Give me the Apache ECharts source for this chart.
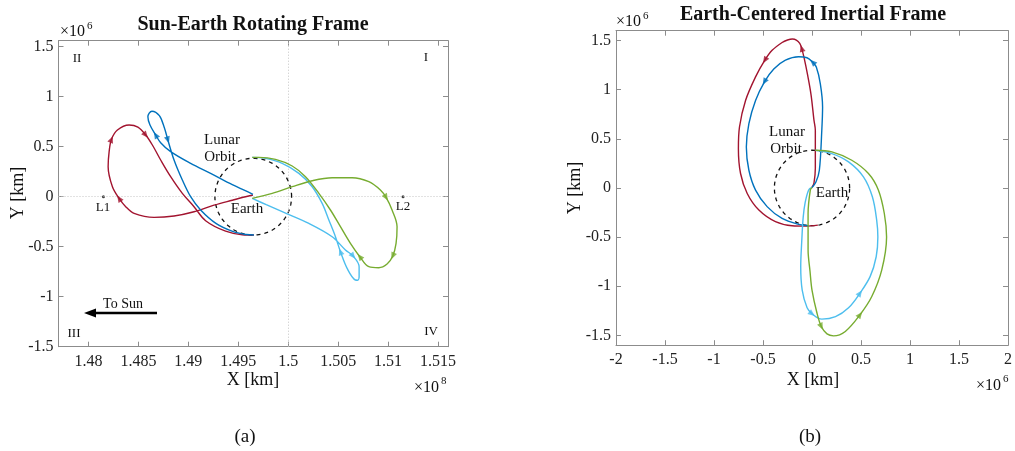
<!DOCTYPE html>
<html>
<head>
<meta charset="utf-8">
<script src="https://cdn.jsdelivr.net/npm/echarts@6/dist/echarts.min.js"></script>
<style>
html,body{margin:0;padding:0;background:#fff;}
#main{width:1015px;height:451px;}
</style>
</head>
<body>
<div id="main"></div>
<script>
// left panel: x in 1e8 km, y in 1e6 km ; right panel: both in 1e6 km
var rotXTicks = [1.48, 1.485, 1.49, 1.495, 1.5, 1.505, 1.51, 1.515];
var rotYTicks = [-1.5, -1, -0.5, 0, 0.5, 1, 1.5];
var eciXTicks = [-2, -1.5, -1, -0.5, 0, 0.5, 1, 1.5, 2];
var eciYTicks = [-1.5, -1, -0.5, 0, 0.5, 1, 1.5];

var earthX = 1.4965;
var lunarR = 0.384;
var lagrangePts = [[1.4815, 0], [1.5115, 0]];

// Sun-Earth rotating frame
var redRot = [[1.49647,0.017],[1.49573,0.0],[1.4944,-0.035],[1.49257,-0.085],[1.49057,-0.15],[1.48857,-0.193],[1.48657,-0.207],[1.48457,-0.167],[1.48373,-0.10],[1.48307,-0.017],[1.4824,0.10],[1.48197,0.30],[1.48207,0.45],[1.4823,0.573],[1.4829,0.667],[1.48407,0.717],[1.48495,0.695],[1.48573,0.617],[1.4864,0.517],[1.48723,0.367],[1.48823,0.20],[1.4894,0.033],[1.49057,-0.10],[1.49173,-0.24],[1.49373,-0.345],[1.4954,-0.38],[1.49657,-0.383]];
var redRotArrows = [9, 13, 17];
var blueRot = [[1.49647,0.023],[1.4957,0.06],[1.4944,0.12],[1.49223,0.233],[1.49023,0.333],[1.48823,0.45],[1.48723,0.54],[1.48673,0.617],[1.48615,0.72],[1.48595,0.80],[1.48635,0.855],[1.4871,0.81],[1.4876,0.69],[1.48795,0.567],[1.48857,0.367],[1.4894,0.167],[1.49023,0.0],[1.49123,-0.133],[1.4928,-0.27],[1.4945,-0.35],[1.4958,-0.378],[1.49657,-0.383]];
var blueRotArrows = [7, 13];
var cyanRot = [[1.4964,-0.017],[1.4978,-0.08],[1.4994,-0.15],[1.50207,-0.267],[1.5044,-0.40],[1.50573,-0.533],[1.5065,-0.593],[1.5071,-0.70],[1.5071,-0.80],[1.50695,-0.835],[1.50673,-0.833],[1.5059,-0.717],[1.50523,-0.55],[1.50473,-0.40],[1.50407,-0.233],[1.5034,-0.067],[1.5024,0.10],[1.50107,0.233],[1.4994,0.333],[1.49773,0.383],[1.4964,0.393]];
var cyanRotArrows = [6, 12];
var greenRot = [[1.4964,-0.017],[1.4984,0.033],[1.5004,0.10],[1.5024,0.16],[1.5044,0.19],[1.5064,0.19],[1.50807,0.15],[1.50923,0.067],[1.5098,-0.007],[1.5104,-0.133],[1.5109,-0.30],[1.5108,-0.467],[1.51047,-0.593],[1.5099,-0.673],[1.50907,-0.71],[1.50807,-0.70],[1.50717,-0.60],[1.50623,-0.467],[1.50523,-0.30],[1.50423,-0.133],[1.50307,0.033],[1.50173,0.20],[1.5004,0.307],[1.49873,0.373],[1.49707,0.393],[1.4964,0.393]];
var greenRotArrows = [8, 12, 16];

// Earth-centered inertial frame
var redEci = [[0,0.005],[0.02,0.05],[0.034,0.2],[0.034,0.587],[0.02,0.69],[-0.01,0.95],[-0.045,1.15],[-0.08,1.32],[-0.105,1.42],[-0.125,1.47],[-0.16,1.505],[-0.2,1.515],[-0.25,1.505],[-0.305,1.48],[-0.407,1.40],[-0.481,1.30],[-0.576,1.13],[-0.678,0.89],[-0.74,0.62],[-0.751,0.4],[-0.729,0.147],[-0.661,-0.056],[-0.542,-0.225],[-0.373,-0.343],[-0.203,-0.385],[-0.068,-0.388],[0.06,-0.378]];
var redEciArrows = [8, 15];
var blueEci = [[0,0.005],[0.04,0.06],[0.075,0.18],[0.1,0.587],[0.108,0.824],[0.085,1.06],[0.044,1.23],[0.007,1.28],[-0.051,1.325],[-0.136,1.335],[-0.271,1.30],[-0.39,1.21],[-0.485,1.08],[-0.576,0.89],[-0.644,0.655],[-0.67,0.417],[-0.644,0.18],[-0.576,-0.022],[-0.458,-0.19],[-0.305,-0.31],[-0.136,-0.37],[-0.034,-0.385]];
var blueEciArrows = [7, 12];
var cyanEci = [[0,0.005],[-0.034,-0.02],[-0.07,-0.15],[-0.09,-0.30],[-0.105,-0.55],[-0.115,-0.80],[-0.10,-1.04],[-0.05,-1.22],[0,-1.28],[0.10,-1.335],[0.24,-1.31],[0.373,-1.22],[0.49,-1.07],[0.594,-0.90],[0.655,-0.70],[0.672,-0.50],[0.66,-0.327],[0.616,-0.09],[0.525,0.113],[0.373,0.265],[0.203,0.35],[0.034,0.384]];
var cyanEciArrows = [8, 12];
var greenEci = [[0,0.005],[-0.017,-0.02],[-0.04,-0.26],[-0.04,-0.63],[-0.02,-0.85],[0,-1.04],[0.05,-1.27],[0.095,-1.41],[0.153,-1.485],[0.22,-1.505],[0.34,-1.46],[0.49,-1.29],[0.61,-1.105],[0.712,-0.834],[0.761,-0.50],[0.738,-0.26],[0.677,-0.02],[0.576,0.147],[0.406,0.282],[0.203,0.367],[0.034,0.384]];
var greenEciArrows = [7, 11];

var RED = '#A2142F', BLUE = '#0072BD', CYAN = '#4DBEEE', GREEN = '#77AC30';
var FONT = '"Liberation Serif", "Times New Roman", serif';
var FRAME = '#8c8c8c';

function circle(cx, cy, rx, ry) {
  var pts = [];
  for (var i = 0; i <= 120; i++) {
    var a = i / 120 * Math.PI * 2;
    pts.push([cx + rx * Math.cos(a), cy + ry * Math.sin(a)]);
  }
  return pts;
}

function fmt(v) { return String(+v.toFixed(4)); }

function axis(grid, pos, min, max, ticks, labels) {
  return {
    type: 'value', gridIndex: grid, position: pos, min: min, max: max,
    axisLine: { show: true, onZero: false, lineStyle: { color: FRAME, width: 1 } },
    axisTick: { show: true, inside: true, length: 5, customValues: ticks, lineStyle: { color: FRAME } },
    axisLabel: { show: labels, customValues: ticks, formatter: fmt, color: '#222', fontFamily: FONT, fontSize: 16, margin: pos === 'bottom' ? 7 : 5 },
    splitLine: { show: false }
  };
}

var chart = echarts.init(document.getElementById('main'), null, { renderer: 'canvas' });

var curves = [
  { d: redRot, a: redRotArrows, c: RED, g: 0 },
  { d: blueRot, a: blueRotArrows, c: BLUE, g: 0 },
  { d: cyanRot, a: cyanRotArrows, c: CYAN, g: 0 },
  { d: greenRot, a: greenRotArrows, c: GREEN, g: 0 },
  { d: redEci, a: redEciArrows, c: RED, g: 1 },
  { d: blueEci, a: blueEciArrows, c: BLUE, g: 1 },
  { d: cyanEci, a: cyanEciArrows, c: CYAN, g: 1 },
  { d: greenEci, a: greenEciArrows, c: GREEN, g: 1 }
];

var series = [];
// lunar orbits + reference lines
series.push({
  type: 'line', xAxisIndex: 0, yAxisIndex: 0, data: circle(earthX, 0, lunarR / 100, lunarR),
  showSymbol: false, lineStyle: { color: '#111', width: 1.3, type: [4, 4] }, z: 3,
  markLine: {
    silent: true, symbol: 'none', label: { show: false },
    lineStyle: { color: '#c4c4c4', type: [1, 2], width: 1 },
    data: [{ xAxis: earthX }, { yAxis: 0 }]
  }
});
series.push({
  type: 'line', xAxisIndex: 2, yAxisIndex: 2, data: circle(0, 0, lunarR, lunarR),
  showSymbol: false, lineStyle: { color: '#111', width: 1.3, type: [4, 4] }, z: 3
});
series.push({
  type: 'scatter', xAxisIndex: 0, yAxisIndex: 0, data: lagrangePts,
  symbol: 'circle', symbolSize: 3, itemStyle: { color: '#111' }, z: 4
});
curves.forEach(function (cv) {
  series.push({
    type: 'line', xAxisIndex: cv.g * 2, yAxisIndex: cv.g * 2, data: cv.d,
    showSymbol: false, smooth: 0.35, lineStyle: { color: cv.c, width: 1.4 }, z: 5
  });
});

var graphics = [];
function txt(t, x, y, size, opts) {
  opts = opts || {};
  graphics.push({
    type: 'text', x: x, y: y, rotation: opts.rot || 0, z: 10,
    style: { text: t, fill: '#111', font: (opts.bold ? 'bold ' : '') + size + 'px ' + FONT, textAlign: opts.align || 'center', textVerticalAlign: 'middle' }
  });
}
txt('Sun-Earth Rotating Frame', 253, 25, 20, { bold: true });
txt('Earth-Centered Inertial Frame', 813, 15, 20, { bold: true });
txt('X [km]', 253, 380, 18);
txt('X [km]', 813, 380, 18);
txt('Y [km]', 18, 193, 18, { rot: Math.PI / 2 });
txt('Y [km]', 575, 188, 18, { rot: Math.PI / 2 });
txt('×10', 60, 32, 16, { align: 'left' });
txt('6', 87, 26, 11, { align: 'left' });
txt('×10', 616, 22, 16, { align: 'left' });
txt('6', 643, 16, 11, { align: 'left' });
txt('×10', 414, 388, 16, { align: 'left' });
txt('8', 441, 381, 11, { align: 'left' });
txt('×10', 976, 386, 16, { align: 'left' });
txt('6', 1003, 379, 11, { align: 'left' });
txt('(a)', 245, 437, 19);
txt('(b)', 810, 437, 19);
txt('II', 77, 59, 13);
txt('I', 426, 58, 13);
txt('III', 74, 334, 13);
txt('IV', 431, 332, 13);
txt('L1', 103, 208, 13);
txt('L2', 403, 207, 13);
txt('Lunar', 222, 140, 15);
txt('Orbit', 220, 157, 15);
txt('Earth', 247, 209, 15);
txt('Lunar', 787, 132, 15);
txt('Orbit', 786, 149, 15);
txt('Earth', 832, 193, 15);
txt('To Sun', 123, 304, 14);
graphics.push({ type: 'line', z: 10, shape: { x1: 157, y1: 313, x2: 92, y2: 313 }, style: { stroke: '#000', lineWidth: 2.5 } });
graphics.push({ type: 'polygon', z: 10, shape: { points: [[84, 313], [96, 308.5], [96, 317.5]] }, style: { fill: '#000' } });

chart.setOption({
  animation: false,
  backgroundColor: '#fff',
  grid: [
    { left: 58.5, top: 40.7, width: 389.5, height: 306 },
    { left: 616, top: 30.7, width: 394.5, height: 314.5 }
  ],
  xAxis: [
    axis(0, 'bottom', 1.477, 1.516, rotXTicks, true),
    axis(0, 'top', 1.477, 1.516, rotXTicks, false),
    axis(1, 'bottom', -2, 2, eciXTicks, true),
    axis(1, 'top', -2, 2, eciXTicks, false)
  ],
  yAxis: [
    axis(0, 'left', -1.5, 1.56, rotYTicks, true),
    axis(0, 'right', -1.5, 1.56, rotYTicks, false),
    axis(1, 'left', -1.6, 1.6, eciYTicks, true),
    axis(1, 'right', -1.6, 1.6, eciYTicks, false)
  ],
  series: series,
  graphic: graphics
});

// direction arrows along each trajectory, oriented in pixel space
var arrowSeries = [];
curves.forEach(function (cv) {
  var ax = cv.g * 2;
  var pts = cv.a.map(function (i) {
    var p0 = chart.convertToPixel({ xAxisIndex: ax, yAxisIndex: ax }, cv.d[i - 1]);
    var p1 = chart.convertToPixel({ xAxisIndex: ax, yAxisIndex: ax }, cv.d[i + 1]);
    var ang = Math.atan2(-(p1[1] - p0[1]), p1[0] - p0[0]) * 180 / Math.PI;
    return { value: cv.d[i], symbolRotate: ang - 90 };
  });
  arrowSeries.push({
    type: 'scatter', xAxisIndex: ax, yAxisIndex: ax, data: pts,
    symbol: 'triangle', symbolSize: [6, 7], itemStyle: { color: cv.c }, z: 6
  });
});
chart.setOption({ series: series.concat(arrowSeries) });
</script>
</body>
</html>
